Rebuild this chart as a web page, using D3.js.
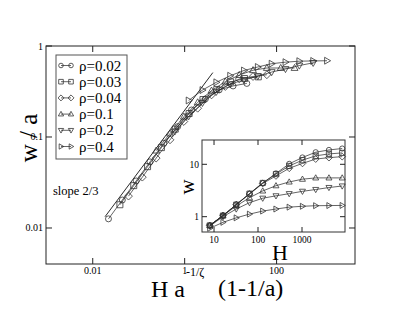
<!DOCTYPE html>
<html>
<head>
<meta charset="utf-8">
<title>w / a scaling</title>
<script src="https://d3js.org/d3.v7.min.js"></script>
<style>
  body { margin: 0; background: #fff; }
  .frame { fill: none; stroke: #222; stroke-width: 1; }
  .tick { stroke: #222; stroke-width: 1; }
  .curve { fill: none; stroke: #222; stroke-width: 0.7; }
  .mark { fill: none; stroke: #333; stroke-width: 0.8; }
</style>
</head>
<body>
<script>
// series labels and marker kinds
var labels = ["ρ=0.02", "ρ=0.03", "ρ=0.04", "ρ=0.1", "ρ=0.2", "ρ=0.4"];
var shapes = ["circle", "square", "diamond", "up", "down", "right"];

// main panel: scaled H (x) and w/a (y), one array per density
var x02 = [0.022, 0.044, 0.088, 0.176, 0.352, 0.704, 1.41, 2.82, 5.63, 11.3, 22.5];
var y02 = [0.0126, 0.0203, 0.0329, 0.0533, 0.0853, 0.130, 0.198, 0.262, 0.329, 0.364, 0.388];
var x03 = [0.039, 0.078, 0.156, 0.312, 0.624, 1.25, 2.5, 5.0, 10.0, 20.0, 40.0];
var y03 = [0.018, 0.0292, 0.0472, 0.0764, 0.122, 0.181, 0.258, 0.333, 0.403, 0.439, 0.458];
var x04 = [0.06, 0.12, 0.24, 0.48, 0.96, 1.92, 3.84, 7.68, 15.4, 30.7, 61.4];
var y04 = [0.0224, 0.0362, 0.0586, 0.0931, 0.148, 0.207, 0.290, 0.359, 0.434, 0.462, 0.483];
var x1 = [0.24, 0.48, 0.96, 1.92, 3.84, 7.68, 15.4, 30.7, 61.4, 123, 246];
var y1 = [0.0708, 0.109, 0.167, 0.240, 0.323, 0.406, 0.479, 0.542, 0.573, 0.573, 0.573];
var x2 = [0.61, 1.22, 2.44, 4.88, 9.76, 19.5, 39, 78, 156, 312, 625];
var y2 = [0.115, 0.169, 0.237, 0.314, 0.381, 0.424, 0.466, 0.517, 0.559, 0.610, 0.653];
var x4 = [1.22, 2.44, 4.88, 9.76, 19.5, 39, 78, 156, 312, 625, 1250];
var y4 = [0.252, 0.328, 0.399, 0.471, 0.538, 0.588, 0.639, 0.664, 0.681, 0.685, 0.689];

// slope 2/3 guide line end points
var slopeX = [0.0185, 4.1];
var slopeY = [0.0133, 0.51];

// inset: raw H and w
var H = [8, 16, 32, 64, 128, 256, 512, 1024, 2048, 4096, 8192];
var w02 = [0.68, 1.05, 1.7, 2.75, 4.4, 6.7, 10.2, 13.5, 17, 18.8, 20];
var w03 = [0.68, 1.05, 1.7, 2.75, 4.4, 6.5, 9.3, 12, 14.5, 15.8, 16.5];
var w04 = [0.68, 1.05, 1.7, 2.7, 4.3, 6.0, 8.4, 10.4, 12.6, 13.4, 14];
var w1 = [0.68, 1.05, 1.6, 2.3, 3.1, 3.9, 4.6, 5.2, 5.5, 5.5, 5.5];
var w2 = [0.66, 1.0, 1.4, 1.85, 2.25, 2.5, 2.75, 3.05, 3.3, 3.6, 3.85];
var w4 = [0.6, 0.78, 0.95, 1.12, 1.28, 1.4, 1.52, 1.58, 1.62, 1.63, 1.64];

// tick labels
var mainXTicks = [0.01, 1, 100];
var mainXTickText = ["0.01", "1", "100"];
var mainYTicks = [0.01, 0.1, 1];
var mainYTickText = ["0.01", "0.1", "1"];
var insetXTicks = [10, 100, 1000];
var insetXTickText = ["10", "100", "1000"];
var insetYTicks = [1, 10];
var insetYTickText = ["1", "10"];

var mainSets = [[x02, y02], [x03, y03], [x04, y04], [x1, y1], [x2, y2], [x4, y4]];
var insetSets = [w02, w03, w04, w1, w2, w4];

var SERIF = "'Liberation Serif'";

// marker outlines
function shapePath(kind, r) {
  switch (kind) {
    case "circle": return "M" + r + ",0A" + r + "," + r + " 0 1,1 " + (-r) + ",0A" + r + "," + r + " 0 1,1 " + r + ",0Z";
    case "square": return "M" + (-r) + "," + (-r) + "H" + r + "V" + r + "H" + (-r) + "Z";
    case "diamond": var d = r * 1.3; return "M0," + (-d) + "L" + d + ",0L0," + d + "L" + (-d) + ",0Z";
    case "up": return "M0," + (-r * 1.2) + "L" + (r * 1.15) + "," + (r * 0.8) + "L" + (-r * 1.15) + "," + (r * 0.8) + "Z";
    case "down": return "M0," + (r * 1.2) + "L" + (r * 1.15) + "," + (-r * 0.8) + "L" + (-r * 1.15) + "," + (-r * 0.8) + "Z";
    case "right": return "M" + (r * 1.2) + ",0L" + (-r * 0.8) + "," + (r * 1.15) + "L" + (-r * 0.8) + "," + (-r * 1.15) + "Z";
  }
}

var W = 403, Hh = 312;
var svg = d3.select("body").append("svg").attr("width", W).attr("height", Hh);

function label(x0, y0, size, str, anchor) {
  return svg.append("text").attr("x", x0).attr("y", y0)
    .style("font-family", SERIF).style("font-size", size + "px")
    .attr("text-anchor", anchor || "start").text(str);
}

// ---------- main panel ----------
var m = {left: 46, top: 46, right: 355, bottom: 264};
var x = d3.scaleLog().domain([0.000962, 5080]).range([m.left, m.right]);
var y = d3.scaleLog().domain([0.00402, 1]).range([m.bottom, m.top]);

svg.append("rect").attr("class", "frame")
  .attr("x", m.left).attr("y", m.top)
  .attr("width", m.right - m.left).attr("height", m.bottom - m.top);

var tl = 6;
mainXTicks.forEach(function(t, i) {
  var px = x(t);
  svg.append("line").attr("class", "tick").attr("x1", px).attr("x2", px).attr("y1", m.bottom).attr("y2", m.bottom - tl);
  svg.append("line").attr("class", "tick").attr("x1", px).attr("x2", px).attr("y1", m.top).attr("y2", m.top + tl);
  label(px, m.bottom + 9.5, 10, mainXTickText[i], "middle");
});
mainYTicks.forEach(function(t, i) {
  var py = y(t);
  svg.append("line").attr("class", "tick").attr("x1", m.left).attr("x2", m.left + tl).attr("y1", py).attr("y2", py);
  svg.append("line").attr("class", "tick").attr("x1", m.right).attr("x2", m.right - tl).attr("y1", py).attr("y2", py);
  label(m.left - 3, py + 3.5, 10, mainYTickText[i], "end");
});

// slope guide
svg.append("line").attr("stroke", "#111").attr("stroke-width", 0.9)
  .attr("x1", x(slopeX[0])).attr("y1", y(slopeY[0]))
  .attr("x2", x(slopeX[1])).attr("y2", y(slopeY[1]));

var line = d3.line();
mainSets.forEach(function(s, k) {
  var pts = s[0].map(function(v, i) { return [x(v), y(s[1][i])]; });
  svg.append("path").attr("class", "curve").attr("d", line(pts));
  svg.selectAll(".mm" + k).data(pts).enter().append("path")
    .attr("class", "mark")
    .attr("transform", function(p) { return "translate(" + p[0] + "," + p[1] + ")"; })
    .attr("d", shapePath(shapes[k], 3));
});

// legend
svg.append("rect").attr("x", 56).attr("y", 55).attr("width", 71).attr("height", 104)
  .attr("fill", "#fff").attr("stroke", "#555").attr("stroke-width", 1);
labels.forEach(function(lab, k) {
  var cy = 65.5 + k * 16.2;
  svg.append("line").attr("class", "curve").attr("x1", 61).attr("x2", 71).attr("y1", cy).attr("y2", cy);
  [61, 71].forEach(function(cx) {
    svg.append("path").attr("class", "mark").attr("transform", "translate(" + cx + "," + cy + ")")
      .attr("d", shapePath(shapes[k], 2.3));
  });
  label(79, cy + 5, 15, lab);
});

label(53, 195, 12.5, "slope 2/3");

// axis titles
svg.append("text").attr("transform", "translate(37,138) rotate(-90)").attr("text-anchor", "middle")
  .style("font-family", SERIF).style("font-size", "25px").text("w / a");
label(151, 297, 24, "H a");
label(186, 276, 12, "-1/ζ");
label(218, 296, 24, "(1-1/a)");

// ---------- inset ----------
var n = {left: 202, top: 140, right: 345, bottom: 232};
var ix = d3.scaleLog().domain([5.33, 9490]).range([n.left, n.right]);
var iy = d3.scaleLog().domain([0.51, 29.1]).range([n.bottom, n.top]);

svg.append("rect").attr("x", n.left).attr("y", n.top)
  .attr("width", n.right - n.left).attr("height", n.bottom - n.top)
  .attr("fill", "#fff").attr("stroke", "#333").attr("stroke-width", 1);

var itl = 5;
insetXTicks.forEach(function(t, i) {
  var px = ix(t);
  svg.append("line").attr("class", "tick").attr("x1", px).attr("x2", px).attr("y1", n.bottom).attr("y2", n.bottom - itl);
  svg.append("line").attr("class", "tick").attr("x1", px).attr("x2", px).attr("y1", n.top).attr("y2", n.top + itl);
  label(px, n.bottom + 11, 9.5, insetXTickText[i], "middle");
});
insetYTicks.forEach(function(t, i) {
  var py = iy(t);
  svg.append("line").attr("class", "tick").attr("x1", n.left).attr("x2", n.left + itl).attr("y1", py).attr("y2", py);
  svg.append("line").attr("class", "tick").attr("x1", n.right).attr("x2", n.right - itl).attr("y1", py).attr("y2", py);
  label(n.left - 3, py + 3.5, 9.5, insetYTickText[i], "end");
});

insetSets.forEach(function(ws, k) {
  var pts = H.map(function(h, i) { return [ix(h), iy(ws[i])]; });
  svg.append("path").attr("class", "curve").attr("d", line(pts));
  svg.selectAll(".im" + k).data(pts).enter().append("path")
    .attr("class", "mark")
    .attr("transform", function(p) { return "translate(" + p[0] + "," + p[1] + ")"; })
    .attr("d", shapePath(shapes[k], 2.6));
});

svg.append("text").attr("transform", "translate(194,187) rotate(-90)").attr("text-anchor", "middle")
  .style("font-family", SERIF).style("font-size", "21px").text("w");
label(280, 260, 22, "H", "middle");
</script>
</body>
</html>
